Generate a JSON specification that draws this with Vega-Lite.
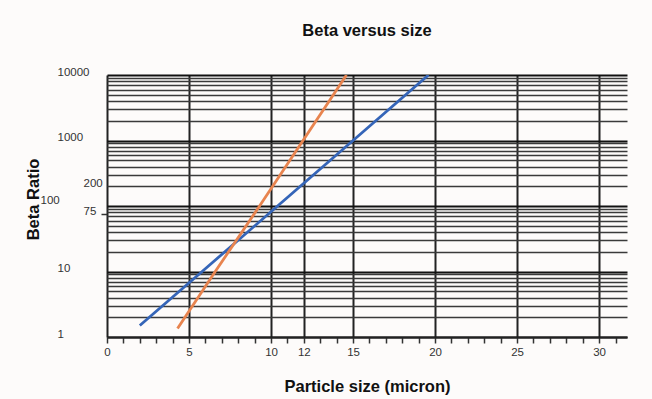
{
  "$schema": "https://vega.github.io/schema/vega-lite/v6.json",
  "width": 520,
  "height": 262,
  "autosize": {"type": "none"},
  "padding": {"left": 107, "top": 75, "right": 25, "bottom": 62},
  "background": "#fdfbfa",
  "title": {
    "text": "Beta versus size",
    "fontSize": 16.5,
    "fontWeight": "bold",
    "font": "Liberation Sans",
    "color": "#111",
    "anchor": "middle",
    "offset": 27
  },
  "data": {
    "values": [
      {"series": "A", "size": 2.0, "beta": 1.5},
      {"series": "A", "size": 5.8, "beta": 10},
      {"series": "A", "size": 10.4, "beta": 100},
      {"series": "A", "size": 15.0, "beta": 1000},
      {"series": "A", "size": 19.6, "beta": 10000},
      {"series": "B", "size": 4.3, "beta": 1.35},
      {"series": "B", "size": 6.6, "beta": 10},
      {"series": "B", "size": 9.3, "beta": 100},
      {"series": "B", "size": 11.95, "beta": 1000},
      {"series": "B", "size": 14.6, "beta": 10000}
    ]
  },
  "mark": {"type": "line", "strokeWidth": 2.8, "clip": true},
  "encoding": {
    "x": {
      "field": "size",
      "type": "quantitative",
      "scale": {"domain": [0, 31.7], "nice": false, "zero": false},
      "axis": {
        "title": "Particle size (micron)",
        "titleFont": "Liberation Sans",
        "titleFontSize": 16.5,
        "titleFontWeight": "bold",
        "titleColor": "#111",
        "titleY": 49,
        "titleBaseline": "middle",
        "values": [0,1,2,3,4,5,6,7,8,9,10,11,12,13,14,15,16,17,18,19,20,21,22,23,24,25,26,27,28,29,30,31],
        "labelExpr": "indexof([0,5,10,12,15,20,25,30], datum.value) >= 0 ? datum.value + '' : ''",
        "labelFont": "Liberation Sans",
        "labelFontSize": 11.5,
        "labelColor": "#333",
        "labelPadding": 3,
        "labelFlush": false,
        "labelOverlap": false,
        "ticks": true,
        "tickSize": 6,
        "tickWidth": 1.5,
        "tickColor": "#333",
        "domain": true,
        "domainColor": "#222",
        "domainWidth": 2,
        "grid": true,
        "gridColor": {"condition": {"test": "indexof([0,5,10,12,15,20,25,30], datum.value) >= 0", "value": "#222"}, "value": "transparent"},
        "gridWidth": 2
      }
    },
    "y": {
      "field": "beta",
      "type": "quantitative",
      "scale": {"type": "log", "domain": [1, 10000], "nice": false},
      "axis": {
        "title": "Beta Ratio",
        "titleFont": "Liberation Sans",
        "titleFontSize": 16.5,
        "titleFontWeight": "bold",
        "titleColor": "#111",
        "titleX": -74,
        "titleY": 124,
        "titleAngle": -90,
        "titleAlign": "center",
        "titleBaseline": "middle",
        "values": [1,2,3,4,5,6,7,8,9,10,20,30,40,50,60,70,75,80,90,100,200,300,400,500,600,700,800,900,1000,2000,3000,4000,5000,6000,7000,8000,9000,10000],
        "labelExpr": "indexof([1,10,75,100,200,1000,10000], datum.value) >= 0 ? datum.value + '' : ''",
        "labelFont": "Liberation Sans",
        "labelFontSize": 11.5,
        "labelColor": "#333",
        "labelAlign": "left",
        "labelOverlap": false,
        "labelFlush": false,
        "labelPadding": {"condition": [{"test": "datum.value == 100", "value": 61}, {"test": "datum.value == 75 || datum.value == 200", "value": 18}], "value": 44},
        "labelOffset": {"condition": {"test": "datum.value == 100", "value": -6}, "value": -3},
        "ticks": true,
        "tickSize": 6,
        "tickWidth": 1.5,
        "tickColor": {"condition": {"test": "datum.value == 75", "value": "#333"}, "value": "transparent"},
        "domain": false,
        "grid": true,
        "gridColor": {"condition": [{"test": "datum.value == 75", "value": "transparent"}, {"test": "indexof([1,10,100,1000,10000], datum.value) >= 0", "value": "#111"}], "value": "#3a3a3a"},
        "gridWidth": {"condition": {"test": "indexof([1,10,100,1000,10000], datum.value) >= 0", "value": 2.2}, "value": 1.4}
      }
    },
    "color": {
      "field": "series",
      "type": "nominal",
      "scale": {"domain": ["A", "B"], "range": ["#3565b8", "#e8844f"]},
      "legend": null
    }
  },
  "config": {
    "view": {"stroke": null}
  }
}
